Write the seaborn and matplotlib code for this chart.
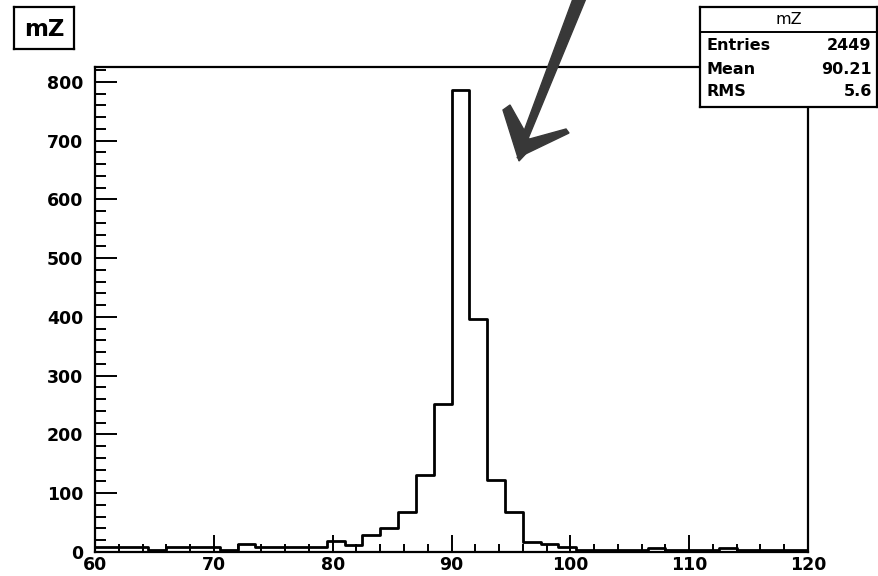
import numpy as np
import pandas as pd
import matplotlib
matplotlib.use("Agg")
import matplotlib.pyplot as plt
from matplotlib.ticker import MultipleLocator
from matplotlib.patches import Polygon
import seaborn as sns

# Histogram of the reconstructed Z mass: 40 bins of 1.5 GeV from 60 to 120
x_low, x_high, n_bins = 60, 120, 40
counts = [8, 8, 8, 4, 8, 8, 8, 4, 13, 8,
          8, 8, 8, 18, 12, 29, 41, 68, 131, 251,
          786, 396, 123, 68, 17, 14, 9, 3, 3, 3,
          3, 7, 3, 3, 3, 7, 3, 3, 3, 3]
x_major_ticks = [60, 70, 80, 90, 100, 110, 120]
hist_name = "mZ"
stat_labels = ["Entries", "Mean", "RMS"]
stat_values = ["2449", "90.21", "5.6"]

bin_edges = np.linspace(x_low, x_high, n_bins + 1)
centers = 0.5 * (bin_edges[:-1] + bin_edges[1:])
df = pd.DataFrame({"mZ": centers, "n": counts})

sns.set_style("ticks")
plt.rcParams["font.family"] = ["DejaVu Sans"]
plt.rcParams["text.color"] = "black"
plt.rcParams["xtick.color"] = "black"
plt.rcParams["ytick.color"] = "black"
plt.rcParams["xtick.labelcolor"] = "black"
plt.rcParams["ytick.labelcolor"] = "black"

W, H = 879, 576
fig = plt.figure(figsize=(W / 100, H / 100), dpi=100)
fig.patch.set_facecolor("white")


def fbox(x0, y0, x1, y1):
    """Pixel box (top-left origin) -> figure fraction rect."""
    return [x0 / W, 1 - y1 / H, (x1 - x0) / W, (y1 - y0) / H]


ax = fig.add_axes(fbox(95, 67, 808, 552))
sns.histplot(data=df, x="mZ", weights="n", bins=n_bins,
             binrange=(x_low, x_high), element="step",
             fill=False, color="black", linewidth=2.0, ax=ax)

ax.set_xlim(x_low, x_high)
ax.set_ylim(0, 1.05 * max(counts))
ax.set_xticks(x_major_ticks)
ax.xaxis.set_minor_locator(MultipleLocator(2))
ax.yaxis.set_major_locator(MultipleLocator(100))
ax.yaxis.set_minor_locator(MultipleLocator(20))
ax.set_xlabel("")
ax.set_ylabel("")
for s in ax.spines.values():
    s.set_linewidth(1.6)
    s.set_color("black")
    s.set_visible(True)
ax.tick_params(axis="x", which="major", direction="in", length=12, width=1.4,
               pad=3, labelsize=12.5, colors="black")
ax.tick_params(axis="x", which="minor", direction="in", length=6, width=1.4,
               colors="black")
ax.tick_params(axis="y", which="major", direction="in", length=15.5, width=1.4,
               pad=8.5, labelsize=12.5, colors="black")
ax.tick_params(axis="y", which="minor", direction="in", length=7.8, width=1.4,
               colors="black")
for lab in ax.get_xticklabels() + ax.get_yticklabels():
    lab.set_fontweight("bold")

# Histogram title box
tax = fig.add_axes(fbox(14, 7, 74, 49))
tax.set_xticks([])
tax.set_yticks([])
for s in tax.spines.values():
    s.set_linewidth(1.6)
    s.set_color("black")
tax.text(0.5, 0.47, hist_name, ha="center", va="center", fontsize=16.5,
         fontweight="bold", color="black", transform=tax.transAxes)

# Statistics box
sax = fig.add_axes(fbox(700, 7, 877, 107), zorder=5)
sax.set_facecolor("white")
sax.set_xticks([])
sax.set_yticks([])
for s in sax.spines.values():
    s.set_linewidth(1.6)
    s.set_color("black")
sax.set_xlim(0, 1)
sax.set_ylim(0, 1)
sax.axhline(0.75, color="black", lw=1.4)
sax.text(0.5, 0.875, hist_name, ha="center", va="center", fontsize=11.5,
         color="black")
row_y = [0.62, 0.38, 0.15]
for y, lab, val in zip(row_y, stat_labels, stat_values):
    sax.text(0.035, y, lab, ha="left", va="center", fontsize=11.5,
             fontweight="bold", color="black")
    sax.text(0.97, y, val, ha="right", va="center", fontsize=11.5,
             fontweight="bold", color="black")

# Hand-drawn pointer toward the peak
oax = fig.add_axes([0, 0, 1, 1], zorder=10)
oax.set_xlim(0, W)
oax.set_ylim(H, 0)
oax.axis("off")
ink = "#383838"
shaft = Polygon([(574, -4), (587, -4), (525, 146), (517, 150)],
                closed=True, facecolor=ink, edgecolor=ink, lw=1.0)
left_barb = Polygon([(503, 110), (510, 105), (533, 146), (519, 161)],
                    closed=True, facecolor=ink, edgecolor=ink, lw=1.0)
right_barb = Polygon([(517, 158), (526, 140), (566, 129), (569, 133)],
                     closed=True, facecolor=ink, edgecolor=ink, lw=1.0)
for p in (shaft, left_barb, right_barb):
    oax.add_patch(p)

fig.savefig("out.png", dpi=100, facecolor="white")
